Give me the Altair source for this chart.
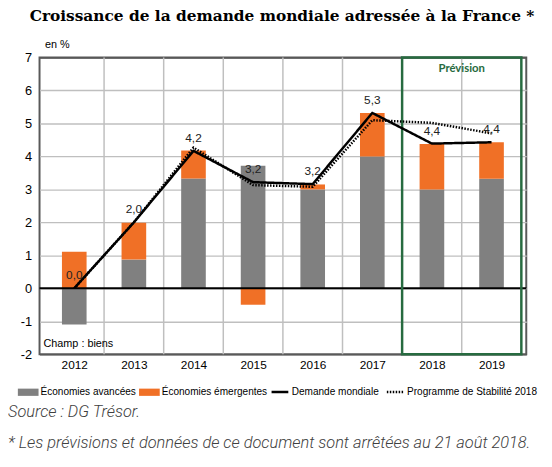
import altair as alt
import pandas as pd

# ---------------- data ----------------
years = [2012, 2013, 2014, 2015, 2016, 2017, 2018, 2019]
avancees = [-1.10, 0.87, 3.33, 3.72, 3.00, 4.00, 3.00, 3.32]
emergentes = [1.11, 1.12, 0.85, -0.50, 0.15, 1.32, 1.38, 1.11]
demande = [0.0, 2.0, 4.17, 3.22, 3.16, 5.32, 4.39, 4.43]
programme = [0.0, 2.0, 4.27, 3.13, 3.08, 5.10, 5.02, 4.70]

bar_series = ["Économies avancées", "Économies émergentes"]
line_series = ["Demande mondiale", "Programme de Stabilité 2018"]
forecast_years = [2018, 2019]
y_ticks = [-2, -1, 0, 1, 2, 3, 4, 5, 6, 7]

title_text = "Croissance de la demande mondiale adressée à la France *"
unit_text = "en %"
champ_text = "Champ : biens"
forecast_text = "Prévision"
source_text = "Source : DG Trésor."
note_text = "* Les prévisions et données de ce document sont arrêtées au 21 août 2018."

# ---------------- tables ----------------
bars = pd.DataFrame(
    [{"year": y, "serie": bar_series[0], "value": a, "ordre": 0} for y, a in zip(years, avancees)]
    + [{"year": y, "serie": bar_series[1], "value": e, "ordre": 1} for y, e in zip(years, emergentes)]
)
lines = pd.DataFrame(
    [{"year": y, "serie": line_series[0], "value": v} for y, v in zip(years, demande)]
    + [{"year": y, "serie": line_series[1], "value": v} for y, v in zip(years, programme)]
)
labels = pd.DataFrame({
    "year": years,
    "value": demande,
    "label": [f"{v:.1f}".replace(".", ",") for v in demande],
})
bounds = pd.DataFrame({"bound": [y + 0.5 for y in years[:-1]]})
forecast = pd.DataFrame({"start": [forecast_years[0] - 0.5], "end": [forecast_years[-1] + 0.5],
                         "mid": [(forecast_years[0] + forecast_years[-1]) / 2],
                         "top": [y_ticks[-1]], "bottom": [y_ticks[0]], "zero": [0]})

GRAY = "#808080"
ORANGE = "#F07026"
GREEN = "#276B40"
GRID = "#BFBFBF"
BORDER = "#595959"
FONT = "Liberation Sans"

x_scale = alt.Scale(domain=[years[0] - 0.5, years[-1] + 0.5], nice=False, zero=False)
x_axis = alt.Axis(values=years, format="d", grid=False, ticks=False, domain=False,
                  labelFontSize=12, labelPadding=6, labelColor="black", title=None,
                  labelFont=FONT, labelOverlap=False)
y_scale = alt.Scale(domain=[y_ticks[0], y_ticks[-1]], nice=False, zero=False)
y_axis = alt.Axis(values=y_ticks, grid=True,
                  gridColor={"condition": {"test": "datum.value === 7 || datum.value === -2",
                                           "value": BORDER}, "value": GRID},
                  gridWidth=1.5, ticks=False, domain=False, labelOverlap=False,
                  labelExpr="'' + datum.value", labelFontSize=13, labelPadding=8,
                  labelColor="black", labelFont=FONT,
                  title=unit_text, titleAngle=0, titleX=5, titleY=-13,
                  titleAlign="left", titleBaseline="middle", titleFontSize=11,
                  titleFontWeight="normal", titleFont=FONT, titleColor="black")

grid_x = alt.Chart(bounds).mark_rule(color=GRID, strokeWidth=1.5).encode(
    x=alt.X("bound:Q", scale=x_scale, axis=x_axis)
)

bar_layer = alt.Chart(bars).mark_bar(size=25).encode(
    x=alt.X("year:Q", scale=x_scale, axis=x_axis),
    y=alt.Y("value:Q", stack="zero", scale=y_scale, axis=y_axis),
    color=alt.Color("serie:N",
                    scale=alt.Scale(domain=bar_series, range=[GRAY, ORANGE]),
                    legend=alt.Legend(orient="none", legendX=-22, legendY=329,
                                      direction="horizontal", title=None,
                                      symbolType="M-1,-0.35L1,-0.35L1,0.35L-1,0.35Z",
                                      symbolSize=441, symbolStrokeWidth=0,
                                      labelFontSize=10.2, labelOffset=2, columnPadding=3,
                                      labelFont=FONT, labelColor="black", labelLimit=300)),
    order=alt.Order("ordre:Q"),
)

zero_rule = alt.Chart(forecast).mark_rule(color="black", strokeWidth=2).encode(
    y=alt.Y("zero:Q", scale=y_scale, axis=y_axis)
)

frame = alt.Chart(forecast).mark_rect(fillOpacity=0, stroke=GREEN, strokeWidth=2.5).encode(
    x=alt.X("start:Q", scale=x_scale, axis=x_axis),
    x2="end:Q",
    y=alt.Y("top:Q", scale=y_scale, axis=y_axis),
    y2="bottom:Q",
)

frame_text = alt.Chart(forecast).mark_text(
    text=forecast_text, font="Lato", fontWeight="bold", fontSize=11.5, color=GREEN,
    baseline="middle"
).encode(
    x=alt.X("mid:Q", scale=x_scale, axis=x_axis),
    y=alt.value(12),
)

line_layer = alt.Chart(lines).mark_line(color="black", strokeWidth=2.5).encode(
    x=alt.X("year:Q", scale=x_scale, axis=x_axis),
    y=alt.Y("value:Q", scale=y_scale, axis=y_axis),
    strokeDash=alt.StrokeDash("serie:N",
                              scale=alt.Scale(domain=line_series, range=[[1, 0], [1.5, 1.5]]),
                              legend=alt.Legend(orient="none", legendX=234, legendY=329,
                                                direction="horizontal", title=None,
                                                symbolType="stroke", symbolSize=289,
                                                symbolStrokeWidth=2.5, symbolStrokeColor="black",
                                                labelFontSize=10.2, labelOffset=2, columnPadding=2,
                                                labelFont=FONT, labelColor="black", labelLimit=300)),
    detail="serie:N",
)

label_layer = alt.Chart(labels).mark_text(
    dy=-13, fontSize=12, font=FONT, color="#222222", baseline="middle"
).encode(
    x=alt.X("year:Q", scale=x_scale, axis=x_axis),
    y=alt.Y("value:Q", scale=y_scale, axis=y_axis),
    text="label:N",
)

champ = alt.Chart(pd.DataFrame({"t": [champ_text]})).mark_text(
    align="left", baseline="middle", fontSize=11, font=FONT, color="black"
).encode(x=alt.value(4), y=alt.value(291), text="t:N")

source = alt.Chart(pd.DataFrame({"t": [source_text]})).mark_text(
    align="left", baseline="middle", fontSize=16.6, font="Roboto", fontStyle="italic",
    fontWeight=300, color="#404040"
).encode(x=alt.value(-32), y=alt.value(360), text="t:N")

note = alt.Chart(pd.DataFrame({"t": [note_text]})).mark_text(
    align="left", baseline="middle", fontSize=16.6, font="Roboto", fontStyle="italic",
    fontWeight=300, color="#404040"
).encode(x=alt.value(-32), y=alt.value(391), text="t:N")

chart = alt.layer(
    grid_x, bar_layer, zero_rule, frame, frame_text, line_layer, label_layer,
    champ, source, note
).properties(
    width=494, height=301,
    title=alt.Title(title_text, font="DejaVu Serif", fontSize=15.6, fontWeight="bold",
                    anchor="start", frame="group", dx=-10, offset=15, color="black"),
    autosize=alt.AutoSizeParams(type="none"),
    padding={"left": 32, "top": 47, "right": 18, "bottom": 99},
).configure_view(
    stroke=BORDER, strokeWidth=2
)

chart.save("out.html", embed_options={"renderer": "svg", "actions": False})
